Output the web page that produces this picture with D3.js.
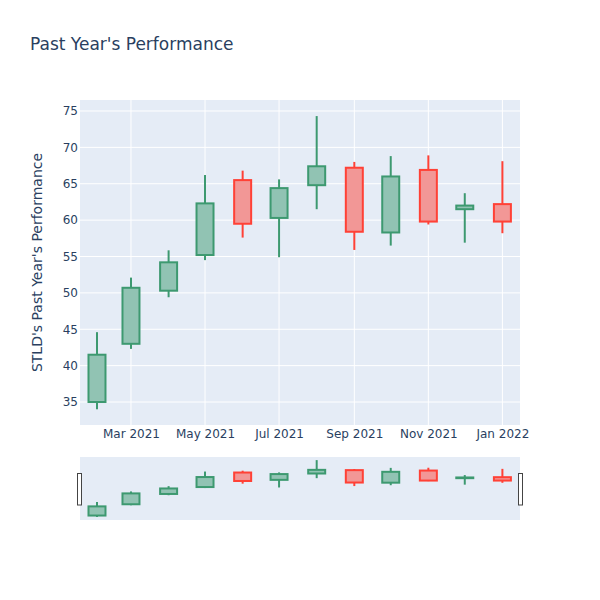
<!DOCTYPE html>
<html>
<head>
<meta charset="utf-8">
<script src="https://cdn.jsdelivr.net/npm/d3@7"></script>
<style>
  body { margin: 0; background: #fff; }
  text { font-family: "DejaVu Sans", verdana, arial, sans-serif; fill: #2a3f5f; }
</style>
</head>
<body>
<svg id="chart" width="600" height="600"></svg>
<script>
// ---- Data ----
const dates = ["2021-02-01","2021-03-01","2021-04-01","2021-05-01","2021-06-01","2021-07-01",
               "2021-08-01","2021-09-01","2021-10-01","2021-11-01","2021-12-01","2022-01-01"];
const openV  = [35.0, 43.0, 50.3, 55.2, 65.5, 60.3, 64.8, 67.2, 58.3, 66.9, 61.5, 62.2];
const highV  = [44.6, 52.1, 55.85, 66.2, 66.8, 65.6, 74.3, 68.0, 68.8, 68.9, 63.7, 68.1];
const lowV   = [34.0, 42.3, 49.4, 54.5, 57.6, 54.9, 61.5, 55.9, 56.5, 59.4, 56.9, 58.2];
const closeV = [41.5, 50.7, 54.2, 62.3, 59.5, 64.4, 67.4, 58.4, 66.0, 59.8, 62.0, 59.8];
const yTicks = [35, 40, 45, 50, 55, 60, 65, 70, 75];
const xTickDates = ["2021-03-01","2021-05-01","2021-07-01","2021-09-01","2021-11-01","2022-01-01"];
const titleText = "Past Year's Performance";
const yTitle = "STLD's Past Year's Performance";

const parse = d3.utcParse("%Y-%m-%d");
const candles = dates.map((d, i) => ({
  date: parse(d), open: openV[i], high: highV[i], low: lowV[i], close: closeV[i]
}));

const FONT = "'DejaVu Sans', verdana, arial, sans-serif";
const svg = d3.select("#chart");
const L = 80, R = 520, T = 100, B = 425;
const sT = 457, sB = 520;
const DAY = 86400000;
const halfW = 7 * DAY;

const x = d3.scaleUtc()
  .domain([new Date(parse(dates[0]).getTime() - 14 * DAY), new Date(parse(dates[dates.length-1]).getTime() + 14.5 * DAY)])
  .range([L, R]);
const yDom = [31.84, 76.51];
const y = d3.scaleLinear().domain(yDom).range([B, T]);
const ys = d3.scaleLinear().domain(yDom).range([sB, sT]);

const incLine = "#3D9970", decLine = "#FF4136";
const incFill = "rgba(61,153,112,0.5)", decFill = "rgba(255,65,54,0.5)";

// background
svg.append("rect").attr("x", L).attr("y", T).attr("width", R - L).attr("height", B - T).attr("fill", "#E5ECF6");

// grid
svg.append("g").selectAll("line").data(yTicks).join("line")
  .attr("x1", L).attr("x2", R).attr("y1", d => y(d)).attr("y2", d => y(d))
  .attr("stroke", "#fff").attr("stroke-width", 1);
svg.append("g").selectAll("line").data(xTickDates.map(parse)).join("line")
  .attr("x1", d => x(d)).attr("x2", d => x(d)).attr("y1", T).attr("y2", B)
  .attr("stroke", "#fff").attr("stroke-width", 1);

// axes
const yAxis = d3.axisLeft(y).tickValues(yTicks).tickSize(0).tickPadding(2);
const gy = svg.append("g").attr("transform", `translate(${L},0)`).call(yAxis);
gy.select(".domain").remove();
gy.selectAll("text").attr("font-size", 12).style("font-family", FONT).attr("fill", "#2a3f5f");

const fmt = d3.utcFormat("%b %Y");
const xAxis = d3.axisBottom(x).tickValues(xTickDates.map(parse)).tickFormat(fmt).tickSize(0).tickPadding(4);
const gx = svg.append("g").attr("transform", `translate(0,${B})`).call(xAxis);
gx.select(".domain").remove();
gx.selectAll("text").attr("font-size", 12).style("font-family", FONT).attr("fill", "#2a3f5f");

function drawCandles(g, ys_) {
  const c = g.selectAll("g.c").data(candles).join("g").attr("class", "c");
  c.append("line")
    .attr("x1", d => x(d.date)).attr("x2", d => x(d.date))
    .attr("y1", d => ys_(d.high)).attr("y2", d => ys_(d.low))
    .attr("stroke", d => d.close >= d.open ? incLine : decLine).attr("stroke-width", 2);
  c.append("rect")
    .attr("x", d => x(new Date(d.date.getTime() - halfW)))
    .attr("width", d => x(new Date(d.date.getTime() + halfW)) - x(new Date(d.date.getTime() - halfW)))
    .attr("y", d => ys_(Math.max(d.open, d.close)))
    .attr("height", d => Math.max(0.5, Math.abs(ys_(d.open) - ys_(d.close))))
    .attr("fill", "#E5ECF6")
    .attr("stroke", "none");
  c.append("rect")
    .attr("x", d => x(new Date(d.date.getTime() - halfW)))
    .attr("width", d => x(new Date(d.date.getTime() + halfW)) - x(new Date(d.date.getTime() - halfW)))
    .attr("y", d => ys_(Math.max(d.open, d.close)))
    .attr("height", d => Math.max(0.5, Math.abs(ys_(d.open) - ys_(d.close))))
    .attr("fill", d => d.close >= d.open ? incFill : decFill)
    .attr("stroke", d => d.close >= d.open ? incLine : decLine).attr("stroke-width", 2);
}

drawCandles(svg.append("g"), y);

// range slider
svg.append("rect").attr("x", L).attr("y", sT).attr("width", R - L).attr("height", sB - sT).attr("fill", "#E5ECF6");
drawCandles(svg.append("g"), ys);
[L - 2.5, R - 1.5].forEach(hx => {
  svg.append("rect").attr("x", hx).attr("y", 473.5).attr("width", 4).attr("height", 31.5)
    .attr("fill", "#fff").attr("stroke", "#444").attr("stroke-width", 1);
});

// titles
svg.append("text").attr("x", 30).attr("y", 50).attr("font-size", 17).style("font-family", FONT).text(titleText);
svg.append("text").attr("transform", `translate(41.5,${(T + B) / 2}) rotate(-90)`)
  .attr("text-anchor", "middle").attr("font-size", 14).style("font-family", FONT).text(yTitle);
</script>
</body>
</html>
